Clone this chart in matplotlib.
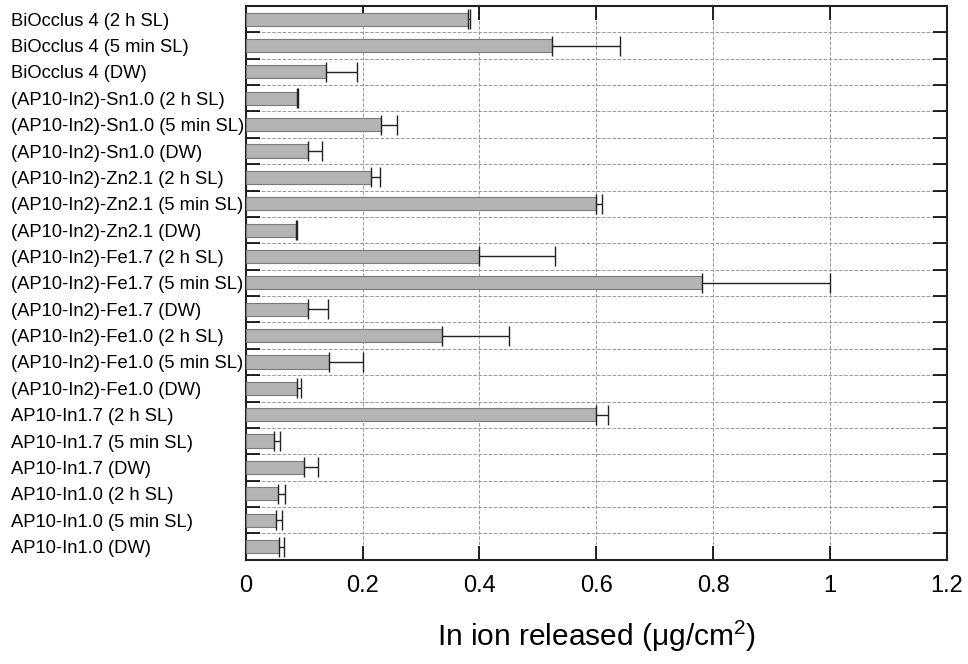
import numpy as np
import matplotlib.pyplot as plt

plt.rcParams['font.family'] = ['Liberation Sans', 'DejaVu Sans']

labels = [
    "BiOcclus 4 (2 h SL)", "BiOcclus 4 (5 min SL)", "BiOcclus 4 (DW)",
    "(AP10-In2)-Sn1.0 (2 h SL)", "(AP10-In2)-Sn1.0 (5 min SL)", "(AP10-In2)-Sn1.0 (DW)",
    "(AP10-In2)-Zn2.1 (2 h SL)", "(AP10-In2)-Zn2.1 (5 min SL)", "(AP10-In2)-Zn2.1 (DW)",
    "(AP10-In2)-Fe1.7 (2 h SL)", "(AP10-In2)-Fe1.7 (5 min SL)", "(AP10-In2)-Fe1.7 (DW)",
    "(AP10-In2)-Fe1.0 (2 h SL)", "(AP10-In2)-Fe1.0 (5 min SL)", "(AP10-In2)-Fe1.0 (DW)",
    "AP10-In1.7 (2 h SL)", "AP10-In1.7 (5 min SL)", "AP10-In1.7 (DW)",
    "AP10-In1.0 (2 h SL)", "AP10-In1.0 (5 min SL)", "AP10-In1.0 (DW)",
]
values = [0.380, 0.525, 0.137,
          0.088, 0.231, 0.106,
          0.215, 0.600, 0.086,
          0.400, 0.781, 0.107,
          0.335, 0.143, 0.088,
          0.600, 0.049, 0.100,
          0.055, 0.052, 0.057]
errors = [0.004, 0.115, 0.053,
          0.001, 0.028, 0.024,
          0.015, 0.010, 0.001,
          0.130, 0.220, 0.033,
          0.115, 0.057, 0.006,
          0.020, 0.010, 0.023,
          0.012, 0.010, 0.008]
xticks = [0, 0.2, 0.4, 0.6, 0.8, 1.0, 1.2]
xtick_labels = ["0", "0.2", "0.4", "0.6", "0.8", "1", "1.2"]

fig = plt.figure(figsize=(9.68, 6.64), dpi=100)
ax = fig.add_axes([0.254, 0.157, 0.724, 0.834])

n = len(labels)
ypos = np.arange(n)
# one-sided error bars (upper only)
ax.barh(ypos, values, height=0.5, color='#b4b4b4', edgecolor='#7a7a7a', linewidth=0.8,
        xerr=[np.zeros(n), errors],
        error_kw=dict(ecolor='#222222', elinewidth=1.0, capsize=7, capthick=1.0),
        zorder=3)

ax.set_ylim(n - 0.5, -0.5)
ax.set_xlim(0, 1.2)
ax.set_yticks(ypos)
ax.set_yticklabels(labels, fontsize=13.2, ha='left')
ax.set_yticks(np.arange(n + 1) - 0.5, minor=True)
ax.set_xticks(xticks)
ax.set_xticklabels(xtick_labels, fontsize=17)

ax.tick_params(axis='y', which='major', length=0, pad=169)
ax.tick_params(axis='y', which='minor', direction='in', length=10, width=1.2, left=True, right=True)
ax.tick_params(axis='x', which='major', direction='in', length=10, width=1.2, top=True, bottom=True, pad=11)

ax.grid(True, axis='x', which='major', linestyle='--', color='#999999', linewidth=0.7, zorder=0)
ax.grid(True, axis='y', which='minor', linestyle='--', color='#999999', linewidth=0.7, zorder=0)

for s in ax.spines.values():
    s.set_linewidth(1.5)
    s.set_color('#222222')

ax.set_xlabel(r"In ion released ($\mathregular{\mu}$g/cm$^\mathregular{2}$)", fontsize=21.5,
              labelpad=15)

fig.savefig("out.png", dpi=100)
